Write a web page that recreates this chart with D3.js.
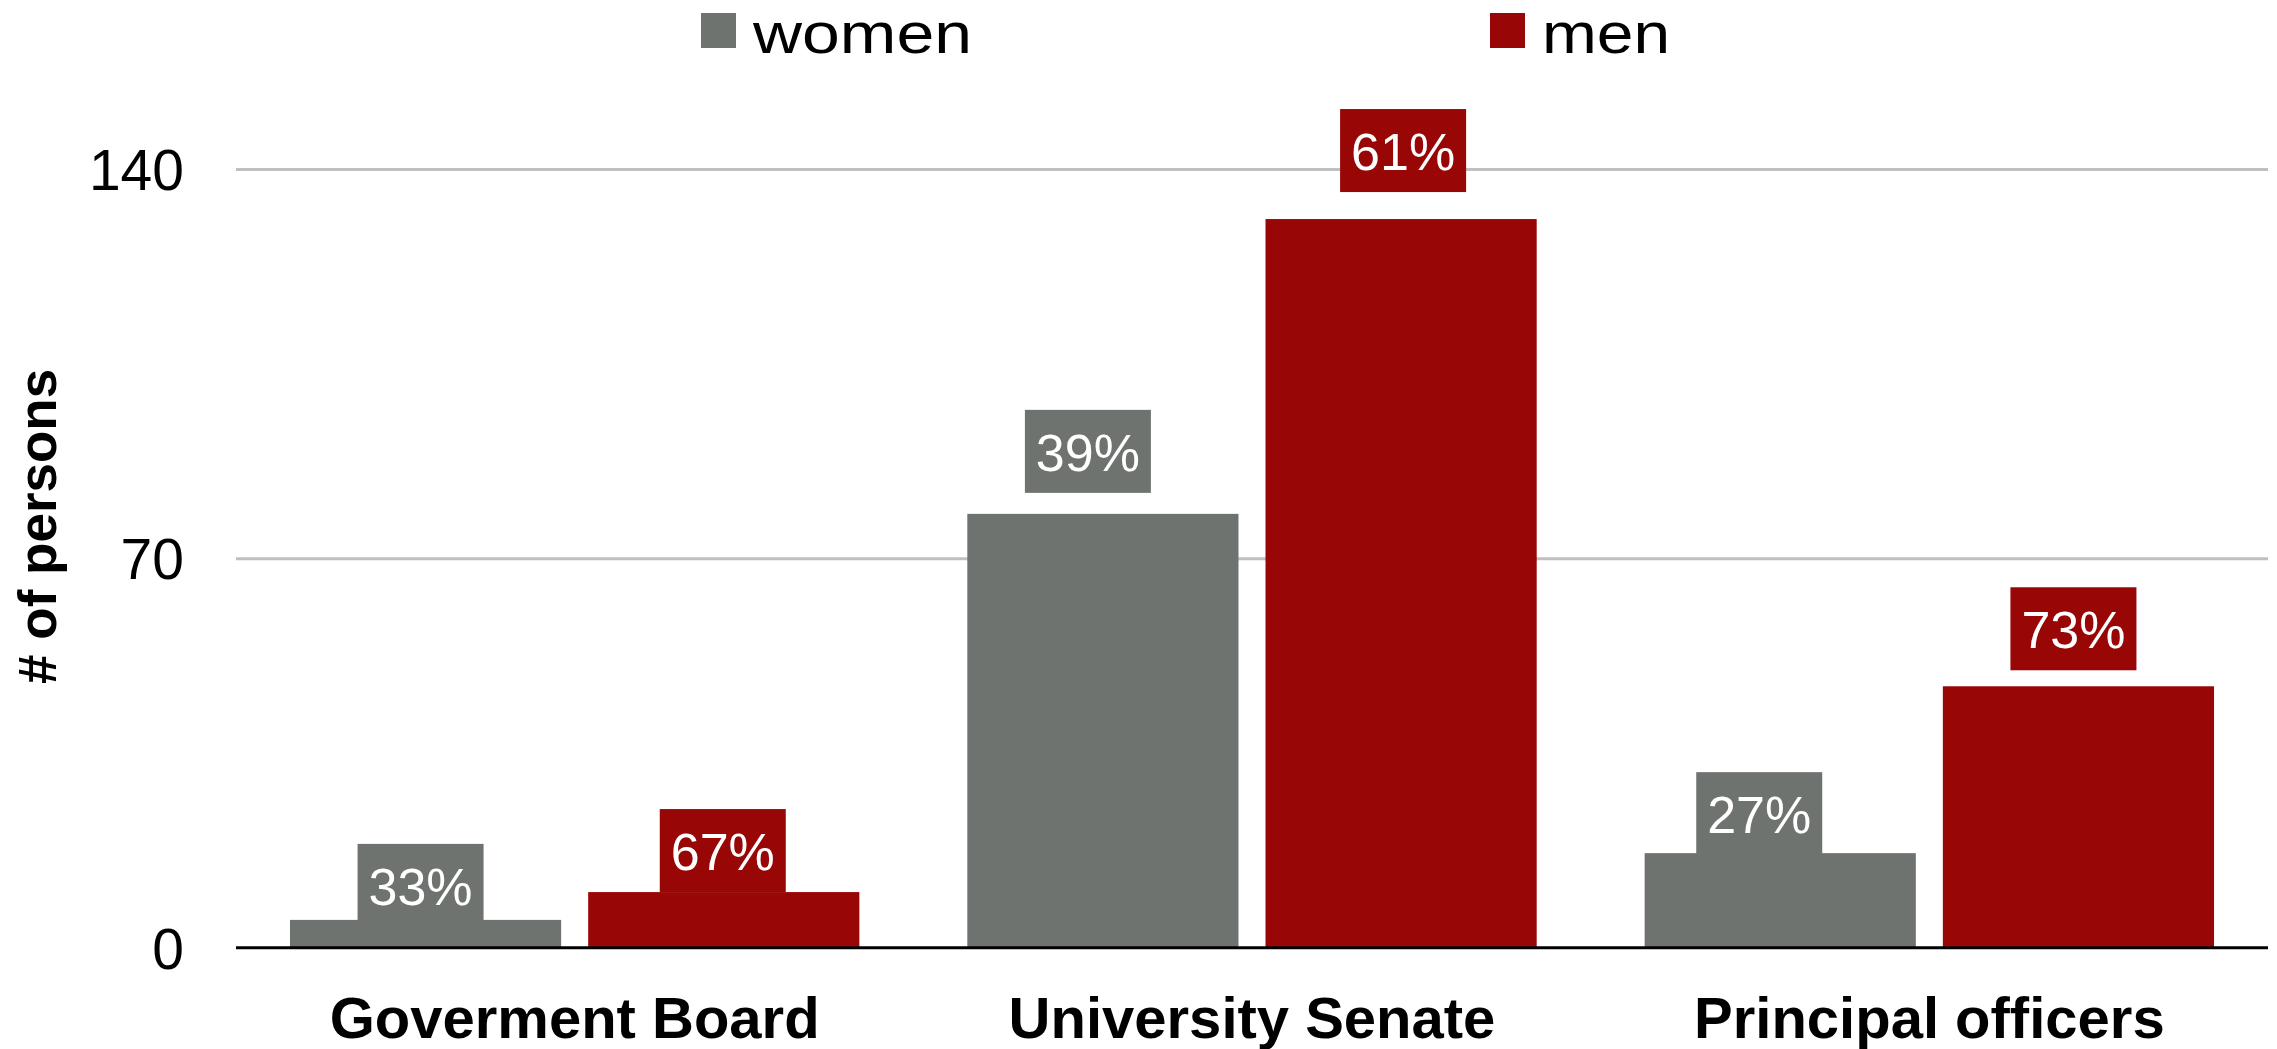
<!DOCTYPE html>
<html>
<head>
<meta charset="utf-8">
<script src="https://cdn.jsdelivr.net/npm/d3@7"></script>
<style>
  html, body { margin: 0; padding: 0; background: #fff; }
  svg { display: block; font-family: "Liberation Sans", Arial, sans-serif; }
</style>
</head>
<body>
<svg id="chart" width="2277" height="1049"></svg>
<script>
// ---- data ----
const categories = ["Goverment Board", "University Senate", "Principal officers"];
const seriesNames = ["women", "men"];
const womenValues = [5, 78, 17];
const menValues = [10, 131, 47];
const womenPct = ["33%", "39%", "27%"];
const menPct = ["67%", "61%", "73%"];
const yTicks = [0, 70, 140];
const yTitle = "# of persons";

// ---- style / layout ----
const colors = { women: "#6e7370", men: "#980606" };
const plot = { left: 236, right: 2268, top: 169, bottom: 947.7 };
// manual nudges of the data-label boxes [dx, gap above bar] (px), as in the original
const labelNudge = {
  women: [[-5, -7], [-15, 21], [-21, -2]],
  men:   [[-1, 0],  [2, 27],  [-5, 16]]
};
const boxW = 126, boxH = 83;

const svg = d3.select("#chart");

const x0 = d3.scaleBand().domain(categories).range([plot.left, plot.right]).paddingInner(0).paddingOuter(0);
const x1 = d3.scaleBand().domain(seriesNames).range([0, x0.bandwidth()]).paddingInner(0.0906).paddingOuter(0.181);
const y = d3.scaleLinear().domain([0, 140]).range([plot.bottom, plot.top]);

// gridlines
const grid = svg.append("g")
  .attr("transform", `translate(${plot.left},0)`)
  .call(d3.axisLeft(y).tickValues(yTicks.filter(d => d !== 0)).tickSize(-(plot.right - plot.left)).tickFormat(""));
grid.select(".domain").remove();
grid.selectAll("line").attr("stroke", "#c0c0c0").attr("stroke-width", 3);

// y tick labels
const yAxis = svg.append("g")
  .attr("transform", `translate(${plot.left},0)`)
  .call(d3.axisLeft(y).tickValues(yTicks).tickSize(0).tickPadding(52).tickFormat(d3.format("d")));
yAxis.select(".domain").remove();
yAxis.selectAll("text")
  .attr("font-size", 57)
  .attr("font-family", "Liberation Sans, Arial, sans-serif")
  .attr("fill", "#000")
  .attr("dy", "0.36em");

// y title
svg.append("text")
  .attr("transform", `translate(56, ${(plot.top + plot.bottom) / 2 - 32}) rotate(-90)`)
  .attr("text-anchor", "middle")
  .attr("font-size", 53)
  .attr("font-weight", "bold")
  .text(yTitle);

// bars
const rows = categories.map((c, i) => ({
  cat: c,
  vals: [
    { key: "women", v: womenValues[i], pct: womenPct[i], nudge: labelNudge.women[i] },
    { key: "men", v: menValues[i], pct: menPct[i], nudge: labelNudge.men[i] }
  ]
}));

const groups = svg.append("g").selectAll("g").data(rows).join("g")
  .attr("transform", d => `translate(${x0(d.cat)},0)`);

groups.selectAll("rect.bar").data(d => d.vals).join("rect")
  .attr("class", "bar")
  .attr("x", d => x1(d.key))
  .attr("y", d => y(d.v))
  .attr("width", x1.bandwidth())
  .attr("height", d => y(0) - y(d.v))
  .attr("fill", d => colors[d.key]);

// data labels
const lab = groups.selectAll("g.lab").data(d => d.vals).join("g")
  .attr("class", "lab")
  .attr("transform", d => {
    const cx = x1(d.key) + x1.bandwidth() / 2 + d.nudge[0];
    const top = y(d.v) - d.nudge[1] - boxH;
    return `translate(${cx},${top})`;
  });
lab.append("rect")
  .attr("x", -boxW / 2).attr("y", 0)
  .attr("width", boxW).attr("height", boxH)
  .attr("fill", d => colors[d.key]);
lab.append("text")
  .attr("x", 0).attr("y", 61)
  .attr("text-anchor", "middle")
  .attr("font-size", 52)
  .attr("fill", "#fff")
  .text(d => d.pct);

// baseline
svg.append("line")
  .attr("x1", plot.left).attr("x2", plot.right)
  .attr("y1", y(0)).attr("y2", y(0))
  .attr("stroke", "#000").attr("stroke-width", 3);

// x category labels
const xAxis = svg.append("g")
  .attr("transform", `translate(0,${y(0)})`)
  .call(d3.axisBottom(x0).tickSize(0).tickPadding(0));
xAxis.select(".domain").remove();
xAxis.selectAll("text")
  .attr("font-size", 58)
  .attr("font-weight", "bold")
  .attr("font-family", "Liberation Sans, Arial, sans-serif")
  .attr("fill", "#000")
  .attr("dy", null)
  .attr("y", 90);

// legend
const legendPos = { women: 701, men: 1490 };
const legendTextLen = { women: 219, men: 128 };
const leg = svg.append("g").selectAll("g").data(seriesNames).join("g")
  .attr("transform", d => `translate(${legendPos[d]},13)`);
leg.append("rect").attr("width", 35).attr("height", 35).attr("fill", d => colors[d]);
leg.append("text")
  .attr("x", 52).attr("y", 40)
  .attr("font-size", 58)
  .attr("textLength", d => legendTextLen[d])
  .attr("lengthAdjust", "spacingAndGlyphs")
  .attr("fill", "#000")
  .text(d => d);
</script>
</body>
</html>
